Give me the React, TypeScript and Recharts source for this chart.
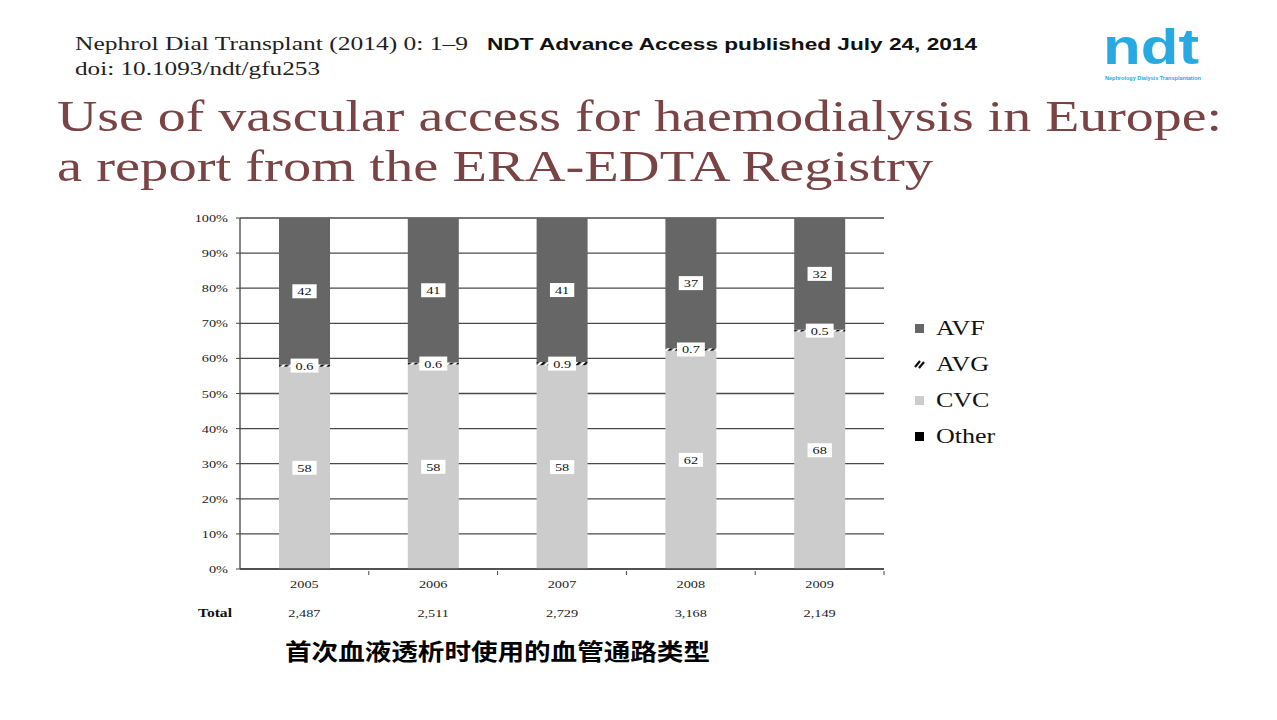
import { Bar, BarChart, CartesianGrid, Label, LabelList, Legend, XAxis, YAxis } from "recharts";

const YEARS = ["2005", "2006", "2007", "2008", "2009"];
const TOTALS = ["2,487", "2,511", "2,729", "3,168", "2,149"];
const AVF = [42, 41, 41, 37, 32];
const AVG = [0.6, 0.6, 0.9, 0.7, 0.5];
const CVC = [58, 58, 58, 62, 68];
const OTHER = [0, 0, 0, 0, 0];
const Y_TICKS = [0, 0.1, 0.2, 0.3, 0.4, 0.5, 0.6, 0.7, 0.8, 0.9, 1];
const LEGEND_ITEMS = ["AVF", "AVG", "CVC", "Other"];

const data = YEARS.map((year, i) => ({
  year,
  total: TOTALS[i],
  avf: AVF[i],
  avg: AVG[i],
  cvc: CVC[i],
  other: OTHER[i],
}));

const SERIF = "'Liberation Serif', 'Times New Roman', serif";
const SANS = "'Liberation Sans', Arial, sans-serif";
const SX = 1.3; // the source picture is stretched sideways
const FILLS: Record<string, string> = { AVF: "#666666", AVG: "url(#avgHatch)", CVC: "#cccccc", Other: "#000000" };

const pct = (v: number) => `${Math.round(v * 100)}%`;
const textEm = (s: string) => s.split("").reduce((w, c) => w + (c === "." || c === "," ? 0.25 : 0.5), 0);

function YTick(p: any) {
  return (
    <g transform={`translate(${p.x},${p.y})`}>
      <text transform={`scale(${SX},1)`} textAnchor="end" dy={4} fontSize={11} fontFamily={SERIF} fill="#222">
        {pct(p.payload.value)}
      </text>
    </g>
  );
}

function YearTick(p: any) {
  const half = p.payload.offset ?? (p.width / p.visibleTicksCount) / 2;
  return (
    <g>
      <line x1={p.x + half} x2={p.x + half} y1={p.y} y2={p.y + 4} stroke="#444" />
      <g transform={`translate(${p.x},${p.y + 17})`}>
        <text transform={`scale(${SX},1)`} textAnchor="middle" fontSize={11} fontFamily={SERIF} fill="#222">
          {p.payload.value}
        </text>
      </g>
    </g>
  );
}

function TotalTick(p: any) {
  return (
    <g transform={`translate(${p.x},${p.y + 18})`}>
      <text transform={`scale(${SX},1)`} textAnchor="middle" fontSize={11} fontFamily={SERIF} fill="#222">
        {p.payload.value}
      </text>
    </g>
  );
}

function BoxLabel(props: any) {
  const { x, y, width, height, value } = props;
  if (value === undefined || value === null) return null;
  const text = String(value);
  const cx = Number(x) + Number(width) / 2;
  const cy = Number(y) + Number(height) / 2;
  const w = textEm(text) * 11 * SX + 10;
  const h = 14;
  return (
    <g>
      <rect x={cx - w / 2} y={cy - h / 2} width={w} height={h} fill="#ffffff" />
      <g transform={`translate(${cx},${cy + 4})`}>
        <text transform={`scale(${SX},1)`} textAnchor="middle" fontSize={11} fontFamily={SERIF} fill="#111">
          {text}
        </text>
      </g>
    </g>
  );
}

function LegendIcon({ name }: { name: string }) {
  if (name === "AVG") {
    return (
      <svg width={12} height={12}>
        <line x1={1} y1={9} x2={6} y2={3} stroke="#111" strokeWidth={2.2} />
        <line x1={5} y1={10} x2={10} y2={4} stroke="#111" strokeWidth={2.2} />
      </svg>
    );
  }
  return (
    <svg width={12} height={12}>
      <rect x={1} y={2} width={9} height={9} fill={FILLS[name]} />
    </svg>
  );
}

function LegendBox() {
  return (
    <div style={{ fontFamily: SERIF, fontSize: 20, color: "#111" }}>
      {LEGEND_ITEMS.map((name) => (
        <div key={name} style={{ display: "flex", alignItems: "center", height: 36 }}>
          <LegendIcon name={name} />
          <span style={{ display: "inline-block", marginLeft: 10, transform: `scaleX(${SX})`, transformOrigin: "left center" }}>
            {name}
          </span>
        </div>
      ))}
    </div>
  );
}

function Header() {
  return (
    <svg width={1277} height={720} style={{ position: "absolute", left: 0, top: 0 }}>
      <defs>
        <pattern id="avgHatch" patternUnits="userSpaceOnUse" width={5} height={5} patternTransform="rotate(45)">
          <rect width={5} height={5} fill="#ffffff" />
          <rect width={2.5} height={5} fill="#111111" />
        </pattern>
      </defs>
      <text x={75} y={50} fontSize={18} fontFamily={SERIF} fill="#222" textLength={393} lengthAdjust="spacingAndGlyphs">
        Nephrol Dial Transplant (2014) 0: 1–9
      </text>
      <text x={487} y={50} fontSize={16} fontWeight="bold" fontFamily={SANS} fill="#111" textLength={490} lengthAdjust="spacingAndGlyphs">
        NDT Advance Access published July 24, 2014
      </text>
      <text x={75} y={75} fontSize={18} fontFamily={SERIF} fill="#222" textLength={245} lengthAdjust="spacingAndGlyphs">
        doi: 10.1093/ndt/gfu253
      </text>
      <text x={57} y={131} fontSize={44} fontFamily={SERIF} fill="#7a4344" textLength={1165} lengthAdjust="spacingAndGlyphs">
        Use of vascular access for haemodialysis in Europe:
      </text>
      <text x={57} y={181} fontSize={44} fontFamily={SERIF} fill="#7a4344" textLength={876} lengthAdjust="spacingAndGlyphs">
        a report from the ERA-EDTA Registry
      </text>
      <text x={1103} y={64} fontSize={50} fontWeight="bold" fontFamily={SANS} fill="#29a9e1" textLength={96} lengthAdjust="spacingAndGlyphs">
        ndt
      </text>
      <text x={1105} y={79.5} fontSize={5} fontWeight="bold" fontFamily={SANS} fill="#29a9e1" textLength={96} lengthAdjust="spacingAndGlyphs">
        Nephrology Dialysis Transplantation
      </text>
      <text x={285} y={660} fontSize={23} fontWeight="bold" fontFamily="'Noto Sans CJK SC', sans-serif" fill="#000" textLength={425} lengthAdjust="spacingAndGlyphs">
        首次血液透析时使用的血管通路类型
      </text>
    </svg>
  );
}

export default function App() {
  return (
    <div style={{ position: "absolute", left: 0, top: 0, width: 1277, height: 720, background: "#fff" }}>
      <Header />
      <div style={{ position: "absolute", left: 0, top: 0 }}>
        <BarChart
          width={1277}
          height={720}
          data={data}
          stackOffset="expand"
          margin={{ top: 218, right: 393, left: 180, bottom: 91 }}
        >
          <CartesianGrid vertical={false} stroke="#4a4a4a" strokeWidth={1.3} />
          <XAxis dataKey="year" height={28} tick={<YearTick />} tickLine={false} tickSize={0} axisLine={{ stroke: "#444", strokeWidth: 1.3 }} interval={0} />
          <XAxis xAxisId="total" dataKey="total" height={32} tick={<TotalTick />} tickLine={false} tickSize={0} axisLine={false} interval={0}>
            <Label
              content={(p: any) => (
                <g transform={`translate(${p.viewBox.x - 8},${p.viewBox.y + 20})`}>
                  <text transform={`scale(${SX},1)`} textAnchor="end" fontSize={12} fontWeight="bold" fontFamily={SERIF} fill="#111">
                    Total
                  </text>
                </g>
              )}
            />
          </XAxis>
          <YAxis
            width={60}
            domain={[0, 1]}
            ticks={Y_TICKS}
            tick={<YTick />}
            tickSize={4}
            tickMargin={8}
            tickLine={{ stroke: "#444" }}
            axisLine={{ stroke: "#444", strokeWidth: 1.3 }}
          />
          <Legend
            layout="vertical"
            align="center"
            verticalAlign="middle"
            content={() => <LegendBox />}
            wrapperStyle={{ left: 914, top: 310, width: 120 }}
          />
          <Bar dataKey="cvc" name="CVC" stackId="a" fill={FILLS.CVC} barSize={51} isAnimationActive={false}>
            <LabelList dataKey="cvc" content={<BoxLabel />} />
          </Bar>
          <Bar dataKey="avg" name="AVG" stackId="a" fill={FILLS.AVG} barSize={51} isAnimationActive={false}>
            <LabelList dataKey="avg" content={<BoxLabel />} />
          </Bar>
          <Bar dataKey="avf" name="AVF" stackId="a" fill={FILLS.AVF} barSize={51} isAnimationActive={false}>
            <LabelList dataKey="avf" content={<BoxLabel />} />
          </Bar>
          <Bar dataKey="other" name="Other" stackId="a" fill={FILLS.Other} barSize={51} isAnimationActive={false} />
        </BarChart>
      </div>
    </div>
  );
}
